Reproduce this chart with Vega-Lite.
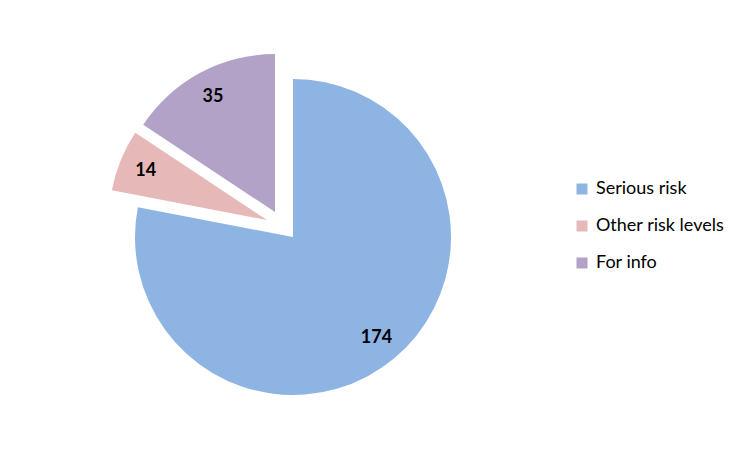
{
  "$schema": "https://vega.github.io/schema/vega-lite/v6.json",
  "width": 586,
  "height": 474,
  "padding": 0,
  "background": "white",
  "config": {"view": {"stroke": null}},
  "data": {"values": [
    {"category": "Serious risk", "value": 174, "order": 1},
    {"category": "Other risk levels", "value": 14, "order": 2},
    {"category": "For info", "value": 35, "order": 3}
  ]},
  "encoding": {
    "theta": {"field": "value", "type": "quantitative", "stack": true},
    "order": {"field": "order", "type": "quantitative", "sort": "ascending"}
  },
  "layer": [
    {
      "mark": {"type": "arc", "radius": 158},
      "encoding": {
        "color": {"field": "category", "type": "nominal", "sort": null,
          "scale": {"domain": ["Serious risk", "Other risk levels", "For info"], "range": ["#8EB4E3", "#E6B9B8", "#B3A2C7"]},
          "legend": {"title": null, "orient": "none", "legendX": 573, "legendY": 180, "symbolType": "square", "symbolSize": 121, "symbolOpacity": 1, "symbolStrokeWidth": 0, "labelFont": "Lato", "labelFontSize": 18, "labelColor": "black", "rowPadding": 19, "labelOffset": 5}},
        "fillOpacity": {"condition": {"test": "datum.category === 'Serious risk'", "value": 1}, "value": 0}
      }
    },
    {
      "mark": {"type": "arc", "radius": 158, "xOffset": -26, "yOffset": -17},
      "encoding": {
        "color": {"field": "category", "type": "nominal", "sort": null},
        "fillOpacity": {"condition": {"test": "datum.category === 'Other risk levels'", "value": 1}, "value": 0}
      }
    },
    {
      "mark": {"type": "arc", "radius": 158, "xOffset": -18, "yOffset": -25},
      "encoding": {
        "color": {"field": "category", "type": "nominal", "sort": null},
        "fillOpacity": {"condition": {"test": "datum.category === 'For info'", "value": 1}, "value": 0}
      }
    },
    {
      "mark": {"type": "text", "radius": 131, "font": "Lato", "fontSize": 18, "fontWeight": "bold", "fill": "black", "align": "center", "baseline": "middle"},
      "encoding": {
        "text": {"field": "value", "type": "quantitative"},
        "opacity": {"condition": {"test": "datum.category === 'Serious risk'", "value": 1}, "value": 0}
      }
    },
    {
      "mark": {"type": "text", "radius": 131, "xOffset": -26, "yOffset": -17, "font": "Lato", "fontSize": 18, "fontWeight": "bold", "fill": "black", "align": "center", "baseline": "middle"},
      "encoding": {
        "text": {"field": "value", "type": "quantitative"},
        "opacity": {"condition": {"test": "datum.category === 'Other risk levels'", "value": 1}, "value": 0}
      }
    },
    {
      "mark": {"type": "text", "radius": 131, "xOffset": -18, "yOffset": -25, "font": "Lato", "fontSize": 18, "fontWeight": "bold", "fill": "black", "align": "center", "baseline": "middle"},
      "encoding": {
        "text": {"field": "value", "type": "quantitative"},
        "opacity": {"condition": {"test": "datum.category === 'For info'", "value": 1}, "value": 0}
      }
    }
  ]
}
